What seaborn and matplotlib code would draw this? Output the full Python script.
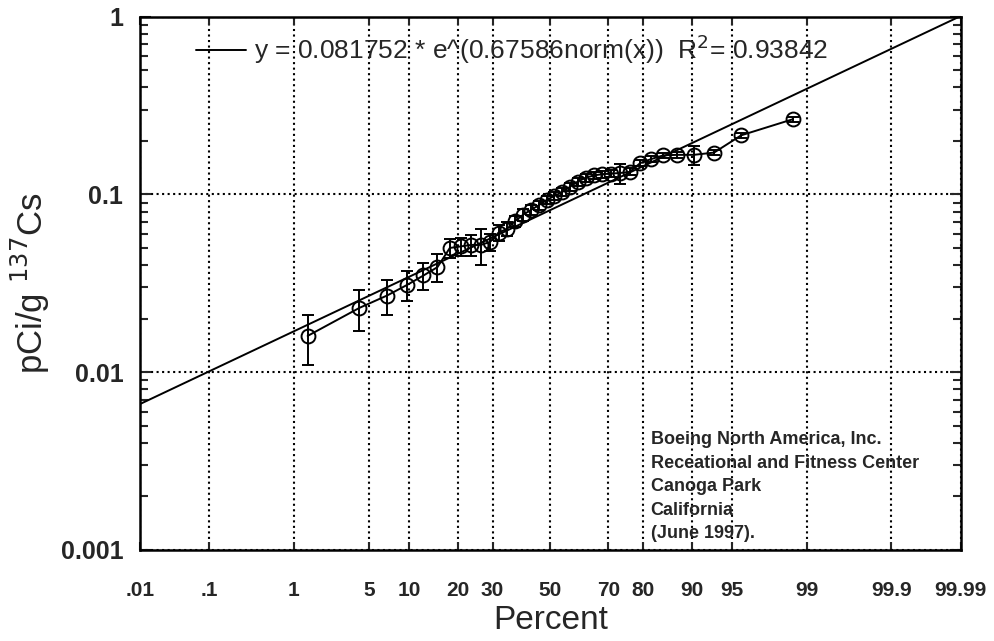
import numpy as np
import pandas as pd
import matplotlib
matplotlib.use("Agg")
import matplotlib.pyplot as plt
import matplotlib.ticker as mticker
import seaborn as sns
from statistics import NormalDist

# plotting position (percent) and measured activity, pCi/g Cs-137
percent = [1.39, 4.17, 6.94, 9.72, 12.5, 15.3, 18.1, 20.8, 23.6, 26.4, 29.2, 31.9,
           34.7, 37.5, 40.3, 43.1, 45.8, 48.6, 51.4, 54.2, 56.9, 59.7, 62.5, 65.3,
           68.1, 70.8, 73.6, 76.4, 79.2, 81.9, 84.7, 87.5, 90.3, 93.1, 95.8, 98.6]
activity = [0.016, 0.023, 0.027, 0.031, 0.035, 0.039, 0.050, 0.051, 0.052, 0.052,
            0.054, 0.061, 0.064, 0.071, 0.077, 0.082, 0.087, 0.093, 0.098, 0.103,
            0.110, 0.118, 0.124, 0.128, 0.130, 0.131, 0.132, 0.134, 0.150, 0.158,
            0.166, 0.167, 0.167, 0.172, 0.215, 0.265]
err = [0.005, 0.006, 0.006, 0.006, 0.006, 0.007, 0.006, 0.006, 0.007, 0.012,
       0.006, 0.006, 0.006, 0.005, 0.006, 0.005, 0.005, 0.005, 0.005, 0.005,
       0.006, 0.006, 0.006, 0.006, 0.006, 0.006, 0.017, 0.006, 0.006, 0.006,
       0.006, 0.006, 0.020, 0.006, 0.006, 0.008]

tick_pcts = [0.01, 0.1, 1, 5, 10, 20, 30, 50, 70, 80, 90, 95, 99, 99.9, 99.99]
tick_labels = [".01", ".1", "1", "5", "10", "20", "30", "50", "70", "80", "90",
               "95", "99", "99.9", "99.99"]
y_ticks = [0.001, 0.01, 0.1, 1]
y_labels = ["0.001", "0.01", "0.1", "1"]

fit_a, fit_b, fit_r2 = 0.081752, 0.67586, 0.93842

note = ("Boeing North America, Inc.\nReceational and Fitness Center\n"
        "Canoga Park\nCalifornia\n(June 1997).")

nd = NormalDist()
_ppf = np.vectorize(lambda p: nd.inv_cdf(min(max(p / 100.0, 1e-9), 1 - 1e-9)), otypes=[float])
_cdf = np.vectorize(lambda z: nd.cdf(z) * 100.0, otypes=[float])


def prob_fwd(x):
    return _ppf(np.asarray(x, dtype=float))


def prob_inv(z):
    return _cdf(np.asarray(z, dtype=float))


sns.set_style("ticks")
plt.rcParams["font.family"] = ["Liberation Sans", "DejaVu Sans"]

df = pd.DataFrame({"percent": percent, "activity": activity, "err": err})

# fitted line is straight on probability / log axes, ends are enough
fit_x = np.array([tick_pcts[0], tick_pcts[-1]])
fit_df = pd.DataFrame({"percent": fit_x,
                       "activity": fit_a * np.exp(fit_b * prob_fwd(fit_x))})

fig = plt.figure(figsize=(9.95, 6.41), dpi=100)
ax = fig.add_axes([0.1407, 0.142, 0.825, 0.832])

ax.set_xscale("function", functions=(prob_fwd, prob_inv))
ax.set_yscale("log")

sns.lineplot(data=fit_df, x="percent", y="activity", ax=ax, color="black", lw=1.4,
             sort=False,
             label=f"y = {fit_a} * e^({fit_b}norm(x))  R$^2$= {fit_r2}")
sns.lineplot(data=df, x="percent", y="activity", ax=ax, color="black", lw=1.4,
             marker="o", markersize=10, markerfacecolor="none",
             markeredgecolor="black", markeredgewidth=1.4, sort=False, legend=False)
ax.errorbar(df["percent"], df["activity"], yerr=df["err"], fmt="none",
            ecolor="black", elinewidth=1.4, capsize=4, capthick=1.4)

ax.set_xlim(tick_pcts[0], tick_pcts[-1])
ax.set_ylim(y_ticks[0], y_ticks[-1])

ax.set_xticks(tick_pcts)
ax.set_xticklabels(tick_labels, fontsize=15, fontweight="bold")
ax.xaxis.set_minor_locator(mticker.NullLocator())
ax.set_yticks(y_ticks)
ax.set_yticklabels(y_labels, fontsize=18, fontweight="bold")
ax.yaxis.set_minor_locator(mticker.LogLocator(base=10, subs=np.arange(2, 10)))
ax.yaxis.set_minor_formatter(mticker.NullFormatter())

ax.tick_params(axis="x", which="major", direction="in", top=True, length=6,
               width=1.5, pad=22)
ax.tick_params(axis="y", which="major", direction="in", right=True, length=8,
               width=1.5, pad=12)
ax.tick_params(axis="y", which="minor", direction="in", right=True, length=6,
               width=1.5)

ax.grid(True, which="major", ls=":", color="black", lw=1.5)
for sp in ax.spines.values():
    sp.set_linewidth(1.8)
    sp.set_color("black")

ax.set_xlabel("Percent", fontsize=24, labelpad=4)
ax.set_ylabel("pCi/g $^{137}$Cs", fontsize=25, labelpad=6)

ax.legend(loc="upper left", bbox_to_anchor=(0.055, 0.99), frameon=False,
          fontsize=19, handlelength=1.9, handletextpad=0.3, borderaxespad=0)

ax.text(0.622, 0.223, note, transform=ax.transAxes, ha="left", va="top",
        fontsize=13, fontweight="bold", linespacing=1.5)

fig.savefig("out.png", dpi=100, facecolor="white")
